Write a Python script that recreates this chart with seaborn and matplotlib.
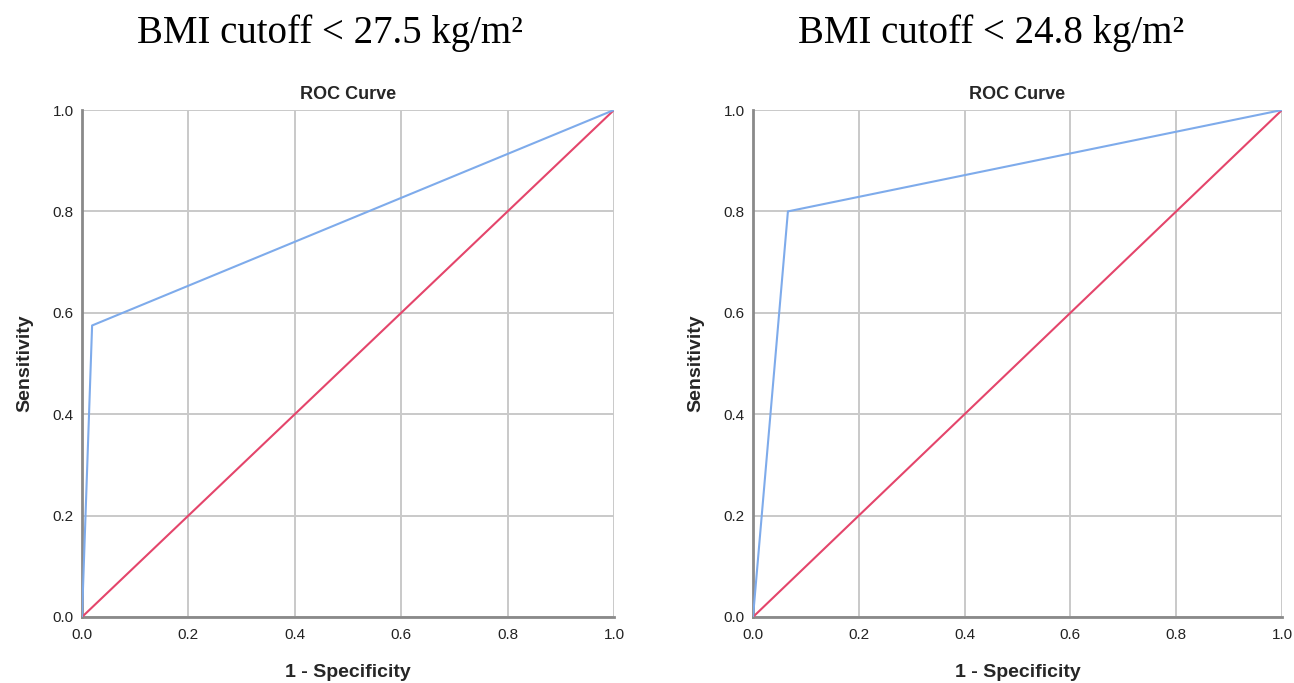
import matplotlib
matplotlib.use("Agg")
import matplotlib.pyplot as plt
import seaborn as sns
import pandas as pd

# Data
panel_titles = ["BMI cutoff < 27.5 kg/m²", "BMI cutoff < 24.8 kg/m²"]
fpr_left = [0.0, 0.019, 1.0]
tpr_left = [0.0, 0.575, 1.0]
fpr_right = [0.0, 0.066, 1.0]
tpr_right = [0.0, 0.80, 1.0]
ref_x = [0.0, 1.0]
ref_y = [0.0, 1.0]
ticks = [0.0, 0.2, 0.4, 0.6, 0.8, 1.0]
tick_labels = ["0.0", "0.2", "0.4", "0.6", "0.8", "1.0"]

sns.set_theme(style="white")
plt.rcParams['font.family'] = ['Liberation Sans', 'DejaVu Sans']

fig = plt.figure(figsize=(12.94, 6.83), dpi=100)
axes_pos = [
    [82/1294, 1-617/683, (614-82)/1294, (617-110)/683],
    [753/1294, 1-617/683, (1282-753)/1294, (617-110)/683],
]
title_x = [330/1294, 991/1294]
curves = [(fpr_left, tpr_left), (fpr_right, tpr_right)]
blue = "#7EABEB"
red = "#E4456B"
grid_c = "#C9C9C9"

for i in range(2):
    ax = fig.add_axes(axes_pos[i])
    fx, ty = curves[i]
    df = pd.DataFrame({"x": fx, "y": ty})
    dref = pd.DataFrame({"x": ref_x, "y": ref_y})
    sns.lineplot(data=df, x="x", y="y", ax=ax, color=blue, lw=1.5, sort=False, zorder=4)
    sns.lineplot(data=dref, x="x", y="y", ax=ax, color=red, lw=1.5, sort=False, zorder=3)
    ax.set_xlim(0, 1)
    ax.set_ylim(0, 1)
    ax.set_xticks(ticks)
    ax.set_yticks(ticks)
    ax.set_xticklabels(tick_labels)
    ax.set_yticklabels(tick_labels)
    ax.tick_params(axis="x", length=0, labelsize=11, colors="#222222", pad=8)
    ax.tick_params(axis="y", length=0, labelsize=11, colors="#222222", pad=6)
    ax.grid(True, color=grid_c, lw=1.4, zorder=0)
    ax.set_axisbelow(True)
    for s in ["top", "right"]:
        ax.spines[s].set_visible(False)
    for s in ["left", "bottom"]:
        ax.spines[s].set_color("#8A8A8A")
        ax.spines[s].set_linewidth(2.0)
    ax.set_xlabel("1 - Specificity", fontsize=14, fontweight="bold", labelpad=16)
    ax.set_ylabel("Sensitivity", fontsize=14, fontweight="bold", labelpad=14)
    ax.set_title("ROC Curve", fontsize=13, fontweight="bold", pad=8)
    fig.text(title_x[i], 1 - 33/683, panel_titles[i], ha="center", va="center",
             fontsize=28, family="Liberation Serif", color="black")

fig.savefig("out.png", dpi=100, facecolor="white")
